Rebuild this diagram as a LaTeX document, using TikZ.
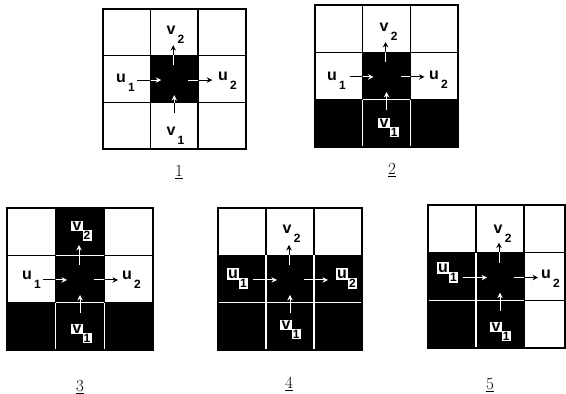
\documentclass[tikz,border=0pt]{standalone}
\usepackage{fontspec}
\newfontfamily\labfont{Liberation Sans}
\usetikzlibrary{arrows.meta,calc}
\tikzset{
  cellbox/.style={draw=black, line width=1.4pt, fill=white},
  darkfill/.style={fill=black},
  sepline/.style={draw=white, line width=1.3pt},
  outer/.style={draw=black, line width=2pt},
  arr/.style={line width=1pt, -{Stealth[length=5.5pt,width=5.5pt]}},
  lbl/.style={font=\labfont\bfseries\fontsize{16}{16}\selectfont, inner sep=1.2pt},
  subl/.style={font=\labfont\bfseries\fontsize{12}{12}\selectfont, inner sep=1.2pt},
  boxed/.style={fill=white},
  plain/.style={},
  numlbl/.style={font=\fontsize{17}{17}\selectfont, inner sep=0pt}
}
% 3x3 grid of white cells with black borders
\newcommand\panelcells[8]{%
  \foreach \xa/\xb in {#1/#2,#2/#3,#3/#4}{%
    \foreach \ya/\yb in {#5/#6,#6/#7,#7/#8}{%
      \draw[cellbox] (\xa,\ya) rectangle (\xb,\yb);
    }}%
}
% named coordinates for the four arrows around a centre
\newcommand\arrowpts[3]{%
  \coordinate (#1c) at (#2,#3);
  \coordinate (#1l0) at ($(#1c)+(-37,1)$);
  \coordinate (#1l1) at ($(#1c)+(-13,1)$);
  \coordinate (#1r0) at ($(#1c)+(14,1)$);
  \coordinate (#1r1) at ($(#1c)+(38,1)$);
  \coordinate (#1t0) at ($(#1c)+(-1,-14)$);
  \coordinate (#1t1) at ($(#1c)+(-1,-34)$);
  \coordinate (#1b0) at ($(#1c)+(0,34)$);
  \coordinate (#1b1) at ($(#1c)+(0,16)$);
}
\newcommand\drawarrows[2]{%
  \draw[arr,#2] (#1l0) -- (#1l1);
  \draw[arr,#2] (#1r0) -- (#1r1);
  \draw[arr,#2] (#1t0) -- (#1t1);
  \draw[arr,#2] (#1b0) -- (#1b1);
}
% label: name, x, y, letter, subscript, style
\newcommand\mylab[6]{%
  \node[lbl,#6] (#1) at (#2,#3) {#4};
  \node[subl,#6,anchor=north west] (#1s) at ([xshift=-0.5pt,yshift=2pt]#1.south east) {#5};
}
\begin{document}
\begin{tikzpicture}[x=1pt,y=-1pt]
\useasboundingbox (0,0) rectangle (566,394);
\clip (0,0) rectangle (566,394);

% ---------- panel 1 ----------
\panelcells{103}{150.5}{198}{245.5}{9}{55.7}{102.4}{149}
\fill[darkfill] (150.5,55.7) rectangle (198,102.4);
\draw[outer] (103,9) rectangle (245.5,149);
\arrowpts{A}{174.25}{79.05}
\drawarrows{A}{black}
\begin{scope}
  \clip (150.5,55.7) rectangle (198,102.4);
  \drawarrows{A}{white}
\end{scope}
\mylab{Au1}{121}{78}{u}{1}{plain}
\mylab{Au2}{223}{76}{u}{2}{plain}
\mylab{Av2}{171}{30}{v}{2}{plain}
\mylab{Av1}{171}{131}{v}{1}{plain}
\node[numlbl] (n1) at (179,172) {\underline{1}};

% ---------- panel 2 ----------
\panelcells{315}{362.7}{410.4}{458}{5}{52.3}{99.6}{147}
\fill[darkfill] (362.7,52.3) rectangle (410.4,99.6)
                (315,99.6) rectangle (458,147);
\draw[sepline] (362.7,99.6) -- (410.4,99.6);
\draw[sepline] (362.7,99.6) -- (362.7,147);
\draw[sepline] (410.4,99.6) -- (410.4,147);
\draw[outer] (315,5) rectangle (458,147);
\arrowpts{B}{386.55}{75.95}
\drawarrows{B}{black}
\begin{scope}
  \clip (362.7,52.3) rectangle (410.4,99.6) (315,99.6) rectangle (458,147);
  \drawarrows{B}{white}
\end{scope}
\mylab{Bu1}{332}{76}{u}{1}{plain}
\mylab{Bu2}{434}{75}{u}{2}{plain}
\mylab{Bv2}{384}{27}{v}{2}{plain}
\mylab{Bv1}{384}{123}{v}{1}{boxed}
\node[numlbl] (n2) at (392,170) {\underline{2}};

% ---------- panel 3 ----------
\panelcells{7}{55.7}{104.4}{153}{208}{255.3}{302.6}{350}
\fill[darkfill] (55.7,208) rectangle (104.4,302.6)
                (7,302.6) rectangle (153,350);
\draw[sepline] (55.7,255.3) -- (104.4,255.3);
\draw[sepline] (55.7,302.6) -- (104.4,302.6);
\draw[sepline] (55.7,302.6) -- (55.7,350);
\draw[sepline] (104.4,302.6) -- (104.4,350);
\draw[outer] (7,208) rectangle (153,350);
\arrowpts{C}{80.05}{278.95}
\drawarrows{C}{black}
\begin{scope}
  \clip (55.7,208) rectangle (104.4,302.6) (7,302.6) rectangle (153,350);
  \drawarrows{C}{white}
\end{scope}
\mylab{Cu1}{27}{275}{u}{1}{plain}
\mylab{Cu2}{127}{275}{u}{2}{plain}
\mylab{Cv2}{77}{226}{v}{2}{boxed}
\mylab{Cv1}{77}{329}{v}{1}{boxed}
\node[numlbl] (n3) at (80,387) {\underline{3}};

% ---------- panel 4 ----------
\panelcells{218}{266}{314}{362}{208}{255.3}{302.6}{350}
\fill[darkfill] (218,255.3) rectangle (362,350);
\draw[sepline] (218,302.6) -- (362,302.6);
\draw[sepline] (266,255.3) -- (266,350);
\draw[sepline] (314,255.3) -- (314,350);
\draw[outer] (218,208) rectangle (362,350);
\arrowpts{D}{290}{278.95}
\drawarrows{D}{black}
\begin{scope}
  \clip (218,255.3) rectangle (362,350);
  \drawarrows{D}{white}
\end{scope}
\mylab{Du1}{233}{274}{u}{1}{boxed}
\mylab{Du2}{342}{274}{u}{2}{boxed}
\mylab{Dv2}{287}{229}{v}{2}{plain}
\mylab{Dv1}{286}{325}{v}{1}{boxed}
\node[numlbl] (n4) at (289,384) {\underline{4}};

% ---------- panel 5 ----------
\panelcells{428}{476}{524}{565}{205}{252.7}{300.4}{348}
\fill[darkfill] (428,252.7) rectangle (524,348);
\draw[sepline] (476,252.7) -- (476,348);
\draw[sepline] (428,300.4) -- (524,300.4);
\draw[outer] (428,205) rectangle (565,348);
\arrowpts{E}{500}{276.55}
\drawarrows{E}{black}
\begin{scope}
  \clip (428,252.7) rectangle (524,348);
  \drawarrows{E}{white}
\end{scope}
\mylab{Eu1}{443}{268}{u}{1}{boxed}
\mylab{Eu2}{546}{274}{u}{2}{plain}
\mylab{Ev2}{498}{229}{v}{2}{plain}
\mylab{Ev1}{496}{327}{v}{1}{boxed}
\node[numlbl] (n5) at (490,385) {\underline{5}};
\end{tikzpicture}
\end{document}
